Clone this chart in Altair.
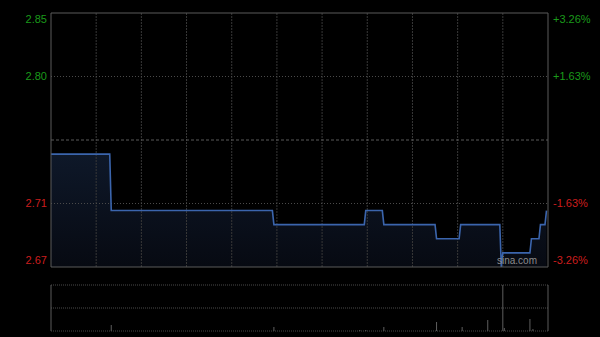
import altair as alt
import pandas as pd

# ---- data ----
minutes = [0, 39, 40, 147, 148, 208, 209, 220, 221, 255, 256, 271, 272, 298, 299, 300, 318, 319, 324, 325, 328, 329]
prices = [2.75, 2.75, 2.71, 2.71, 2.70, 2.70, 2.71, 2.71, 2.70, 2.70, 2.69, 2.69, 2.70, 2.70, 2.67, 2.68, 2.68, 2.69, 2.69, 2.70, 2.70, 2.71]

vol_minutes = [40, 148, 205, 209, 221, 256, 273, 290, 300, 301, 318, 320]
volumes = [6, 4, 1, 1, 4, 9, 4, 11, 46, 3, 12, 2]

PREV_CLOSE = 2.76
PRICE_MIN, PRICE_MAX = 2.67, 2.85
VOL_MAX = 46
TOTAL_MIN = 330

grid_minutes = [30, 60, 90, 120, 150, 180, 210, 240, 270, 300]
label_prices = [2.85, 2.805, 2.715, 2.67]
left_labels = ["2.85", "2.80", "2.71", "2.67"]
right_labels = ["+3.26%", "+1.63%", "-1.63%", "-3.26%"]
label_colors = ["#1a9a1a", "#1a9a1a", "#cc1e1e", "#cc1e1e"]
label_baselines = ["top", "middle", "middle", "bottom"]
label_dy = [1, 0, 0, -1]

# ---- scales ----
W, H_PRICE = 497, 254
VOL_TOP, VOL_BOT = 272, 318
xs = alt.Scale(domain=[0, TOTAL_MIN], nice=False, zero=False)
ps = alt.Scale(domain=[PRICE_MIN, PRICE_MAX], range=[H_PRICE, 0], nice=False, zero=False)
vs = alt.Scale(domain=[0, VOL_MAX], range=[VOL_BOT, VOL_TOP], nice=False)

price_df = pd.DataFrame({"m": minutes, "p": prices})
vol_df = pd.DataFrame({"m": vol_minutes, "v": volumes})
grid_df = pd.DataFrame({"m": grid_minutes})

FRAME = "#5a5a5a"
FONT = "Liberation Sans"

layers = []

# area fill under price
layers.append(
    alt.Chart(price_df).mark_area(
        color=alt.Gradient(
            gradient="linear",
            stops=[alt.GradientStop(color="#0e1829", offset=0),
                   alt.GradientStop(color="#070a12", offset=1)],
            x1=1, x2=1, y1=0, y2=1,
        )
    ).encode(
        x=alt.X("m:Q", scale=xs, axis=None),
        y=alt.Y("p:Q", scale=ps, axis=None),
        y2=alt.datum(PRICE_MIN),
    )
)

# vertical grid (price panel)
layers.append(
    alt.Chart(grid_df).mark_rule(color="#383838", strokeDash=[2, 1], strokeWidth=1).encode(
        x=alt.X("m:Q", scale=xs, axis=None),
        y=alt.value(0),
        y2=alt.value(H_PRICE),
    )
)

# horizontal grid at +-1.63%
hgrid_df = pd.DataFrame({"p": [label_prices[1], label_prices[2]]})
layers.append(
    alt.Chart(hgrid_df).mark_rule(color="#4a4a4a", strokeDash=[1, 2], strokeWidth=1).encode(
        y=alt.Y("p:Q", scale=ps, axis=None),
        x=alt.value(0),
        x2=alt.value(W),
    )
)

# previous close line
layers.append(
    alt.Chart(pd.DataFrame({"p": [PREV_CLOSE]})).mark_rule(
        color="#5a5a5a", strokeDash=[3, 2], strokeWidth=1
    ).encode(
        y=alt.Y("p:Q", scale=ps, axis=None),
        x=alt.value(0),
        x2=alt.value(W),
    )
)

# price line
layers.append(
    alt.Chart(price_df).mark_line(color="#3b65ad", strokeWidth=1.6).encode(
        x=alt.X("m:Q", scale=xs, axis=None),
        y=alt.Y("p:Q", scale=ps, axis=None),
    )
)

# price panel frame
layers.append(alt.Chart(pd.DataFrame({"a": [0]})).mark_rule(color=FRAME, strokeWidth=1).encode(
    x=alt.value(0), x2=alt.value(W), y=alt.value(0)))
layers.append(alt.Chart(pd.DataFrame({"a": [0]})).mark_rule(color=FRAME, strokeWidth=1).encode(
    x=alt.value(0), x2=alt.value(W), y=alt.value(H_PRICE)))
layers.append(alt.Chart(pd.DataFrame({"a": [0]})).mark_rule(color=FRAME, strokeWidth=1).encode(
    x=alt.value(0), y=alt.value(0), y2=alt.value(H_PRICE)))
layers.append(alt.Chart(pd.DataFrame({"a": [0]})).mark_rule(color=FRAME, strokeWidth=1).encode(
    x=alt.value(W), y=alt.value(0), y2=alt.value(H_PRICE)))

# volume panel grid lines (top / middle / bottom dotted)
vgrid_df = pd.DataFrame({"v": [VOL_MAX, VOL_MAX / 2, 0]})
layers.append(
    alt.Chart(vgrid_df).mark_rule(color="#4a4a4a", strokeDash=[1, 1], strokeWidth=1).encode(
        y=alt.Y("v:Q", scale=vs, axis=None),
        x=alt.value(0),
        x2=alt.value(W),
    )
)
# volume panel sides
layers.append(alt.Chart(pd.DataFrame({"a": [0]})).mark_rule(color=FRAME, strokeWidth=1).encode(
    x=alt.value(0), y=alt.value(VOL_TOP), y2=alt.value(VOL_BOT)))
layers.append(alt.Chart(pd.DataFrame({"a": [0]})).mark_rule(color=FRAME, strokeWidth=1).encode(
    x=alt.value(W), y=alt.value(VOL_TOP), y2=alt.value(VOL_BOT)))

# volume bars
layers.append(
    alt.Chart(vol_df).mark_rule(color="#5e5e5e", strokeWidth=1).encode(
        x=alt.X("m:Q", scale=xs, axis=None),
        y=alt.Y("v:Q", scale=vs, axis=None),
        y2=alt.datum(0),
    )
)

# axis labels
for p, lt, rt, c, b, dy in zip(label_prices, left_labels, right_labels, label_colors, label_baselines, label_dy):
    d = pd.DataFrame({"p": [p], "lt": [lt], "rt": [rt]})
    layers.append(
        alt.Chart(d).mark_text(align="right", baseline=b, dy=dy, font=FONT, fontSize=11, color=c).encode(
            y=alt.Y("p:Q", scale=ps, axis=None), x=alt.value(-4), text="lt:N")
    )
    layers.append(
        alt.Chart(d).mark_text(align="left", baseline=b, dy=dy, font=FONT, fontSize=11, color=c).encode(
            y=alt.Y("p:Q", scale=ps, axis=None), x=alt.value(W + 5), text="rt:N")
    )

# watermark
layers.append(
    alt.Chart(pd.DataFrame({"t": ["sina.com"]})).mark_text(
        align="right", baseline="bottom", font=FONT, fontSize=10, color="#8c8c8c"
    ).encode(x=alt.value(486), y=alt.value(H_PRICE - 1), text="t:N")
)

chart = alt.layer(*layers).resolve_scale(y="independent").properties(
    width=W,
    height=VOL_BOT,
    background="#000000",
    padding={"left": 51, "top": 13, "right": 52, "bottom": 6},
    autosize=alt.AutoSizeParams(type="none"),
).configure_view(stroke=None)

chart.save("out.html", embed_options={"renderer": "svg", "actions": False})
